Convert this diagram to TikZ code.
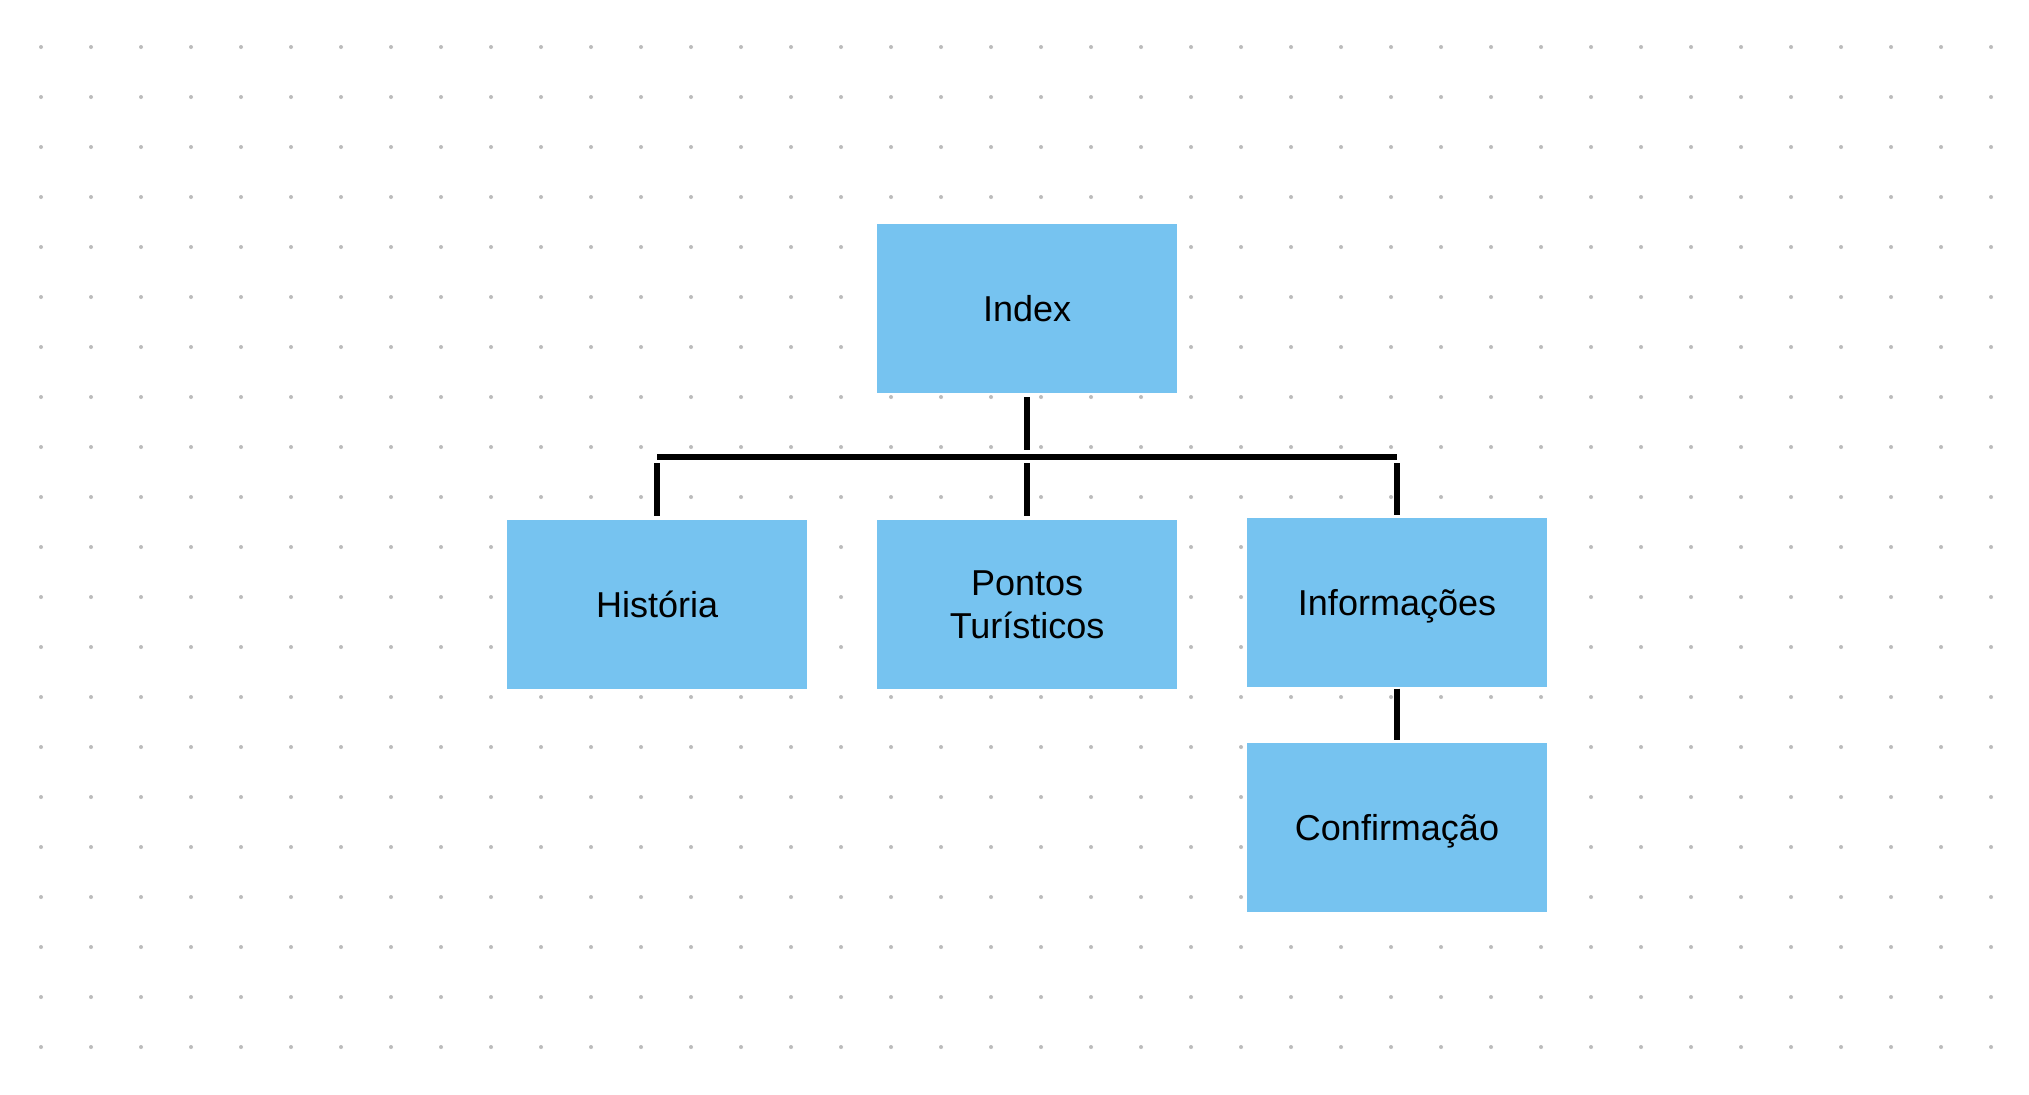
\documentclass[tikz,border=0pt]{standalone}
\usepackage{fontspec}
\setmainfont{Liberation Sans}
\definecolor{boxblue}{RGB}{118,195,240}
\definecolor{dotgray}{RGB}{188,188,188}
\tikzset{
  pagebox/.style={rectangle, fill=boxblue, minimum width=150bp, minimum height=84.35bp, inner sep=0pt, align=center, font=\fontsize{18bp}{21.5bp}\selectfont, text=black},
  oneline/.style={text height=12.9bp, text depth=0pt},
  conn/.style={draw=black, line width=2.85bp, line cap=butt}
}
\begin{document}
\begin{tikzpicture}[x=0.5bp, y=-0.5bp]
\useasboundingbox (0,0) rectangle (2029,1094);
\fill[white] (0,0) rectangle (2029,1094);
% dotted grid
\foreach \gx in {41,91,...,1991} {
  \foreach \gy in {47,97,...,1047} {
    \fill[dotgray] (\gx,\gy) circle[radius=1bp];
  }
}
% nodes
\node[pagebox, oneline] (idx) at (1027.2,308.3) {Index};
\node[pagebox, oneline] (hist) at (657.1,604.4) {História};
\node[pagebox] (pont) at (1027.1,604.4) {\raisebox{-1.5bp}{Pontos}\\\raisebox{-1.5bp}{Turísticos}};
\node[pagebox, oneline] (info) at (1397,602.5) {Informações};
\node[pagebox, oneline] (conf) at (1397,827.5) {Confirmação};
\coordinate (bus) at (1027.2,456.7);
% connectors
\draw[conn, shorten <=2.15bp, shorten >=3.5bp] (idx.south) -- (idx.south |- bus);
\draw[conn] (hist.north |- bus) -- (info.north |- bus);
\draw[conn, shorten <=3.15bp, shorten >=2bp] (hist.north |- bus) -- (hist.north);
\draw[conn, shorten <=3.15bp, shorten >=2bp] (pont.north |- bus) -- (pont.north);
\draw[conn, shorten <=3.15bp, shorten >=1.15bp] (info.north |- bus) -- (info.north);
\draw[conn, shorten <=0.7bp, shorten >=1.3bp] (info.south) -- (conf.north);
\end{tikzpicture}
\end{document}
